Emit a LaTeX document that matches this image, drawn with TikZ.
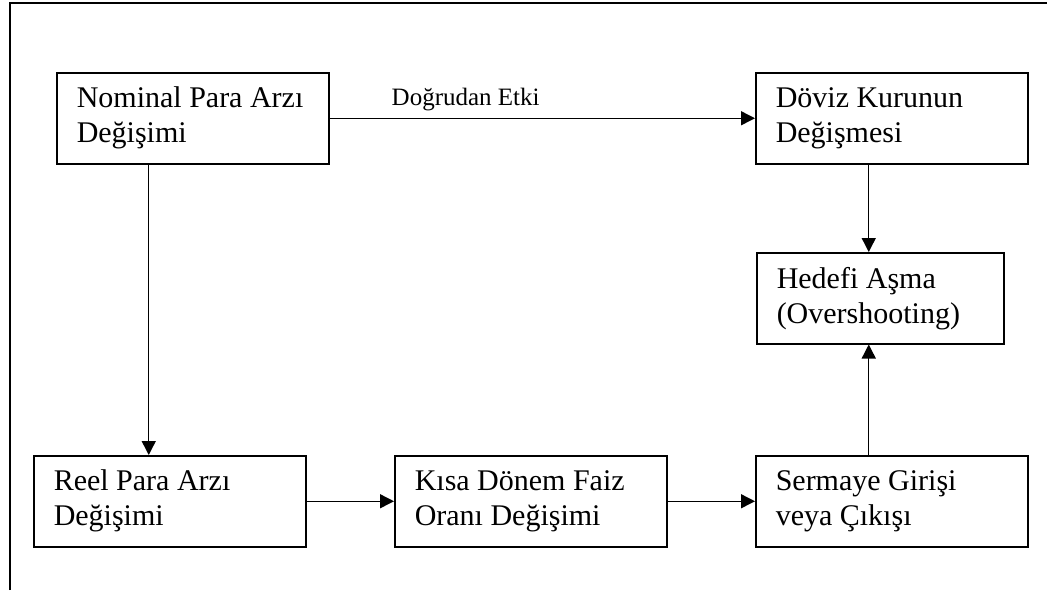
\documentclass[tikz,border=0pt]{standalone}
\usepackage{fontspec}
\setmainfont{Liberation Serif}
\usetikzlibrary{arrows.meta}

\begin{document}
\begin{tikzpicture}[x=1pt,y=-1pt,
                    stage/.style={draw,line width=1.5pt,anchor=north west,align=flush left,
                      text width=232pt,inner xsep=20pt,minimum height=91pt,
                      font=\fontsize{30}{35}\selectfont},
                    flow/.style={line width=1.4pt,-{Triangle[length=14pt,width=14pt]}},
                    tag/.style={font=\fontsize{25}{29}\selectfont,inner sep=0pt}]
      \useasboundingbox (0,0) rectangle (1047,590);
      \draw[line width=1.8pt] (10,590) -- (10,3) -- (1047,3);

      \node[stage] (nominal) at (56,72) {Nominal Para Arzı\\Değişimi};
      \node[stage] (doviz) at (755,72) {Döviz Kurunun\\Değişmesi};
      \node[stage,text width=207pt] (hedef) at (756,252) {Hedefi Aşma\\(Overshooting)};
      \node[stage] (reel) at (33,455) {Reel Para Arzı\\Değişimi};
      \node[stage] (kisa) at (394,455) {Kısa Dönem Faiz\\Oranı Değişimi};
      \node[stage] (sermaye) at (755,455) {Sermaye Girişi\\veya Çıkışı};

      \draw[flow] (nominal) -- (doviz)
        node[tag,pos=0.32,anchor=base,yshift=13pt] {Doğrudan Etki};
      \draw[flow] ([xshift=-44pt]nominal.south) -- ([xshift=-44pt]nominal.south |- reel.north);
      \draw[flow] (reel) -- (kisa);
      \draw[flow] (kisa) -- (sermaye);
      \draw[flow] ([xshift=-23pt]doviz.south) -- ([xshift=-23pt]doviz.south |- hedef.north);
      \draw[flow] ([xshift=-23pt]sermaye.north) -- ([xshift=-23pt]sermaye.north |- hedef.south);
    \end{tikzpicture}
\end{document}
